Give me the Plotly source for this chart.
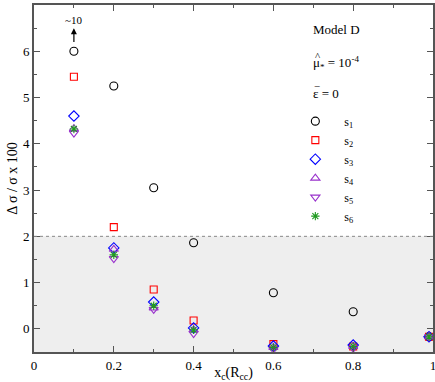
import plotly.graph_objects as go

# data
x_vals = [0.1, 0.2, 0.3, 0.4, 0.6, 0.8, 0.99]
s1 = [6.0, 5.25, 3.05, 1.86, 0.78, 0.37, -0.17]
s2 = [5.45, 2.2, 0.85, 0.18, -0.33, -0.38, -0.17]
s3 = [4.6, 1.75, 0.58, 0.02, -0.37, -0.35, -0.17]
s4 = [4.33, 1.72, 0.45, -0.02, -0.40, -0.38, -0.17]
s5 = [4.23, 1.52, 0.42, -0.10, -0.44, -0.42, -0.17]
s6 = [4.32, 1.60, 0.50, -0.02, -0.40, -0.38, -0.17]
names = ["s<sub>1</sub>", "s<sub>2</sub>", "s<sub>3</sub>",
         "s<sub>4</sub>", "s<sub>5</sub>", "s<sub>6</sub>"]

styles = [
    ("circle-open", "black", 8),
    ("square-open", "red", 7),
    ("diamond-open", "blue", 8),
    ("triangle-up-open", "#9932cc", 8),
    ("triangle-down-open", "#9932cc", 8),
    ("asterisk-open", "#1f9a1f", 7),
]

FONT = "Liberation Serif"
AXC = "#555555"

fig = go.Figure()

# shaded band below 2
fig.add_shape(type="rect", xref="x", yref="y", x0=0, x1=1, y0=-0.5, y1=2,
              fillcolor="#eeeeee", line=dict(width=0), layer="below")
fig.add_shape(type="line", xref="x", yref="y", x0=0, x1=1, y0=2, y1=2,
              line=dict(color="#888888", width=1, dash="dot"))

for name, ys, (sym, col, sz) in zip(names, [s1, s2, s3, s4, s5, s6], styles):
    fig.add_trace(go.Scatter(
        x=x_vals, y=ys, mode="markers", name="\u00a0\u00a0\u00a0" + name,
        marker=dict(symbol=sym, size=sz, color=col,
                    line=dict(color=col, width=1.1)),
    ))

# arrow "~10"
fig.add_annotation(x=0.1, y=6.5, ax=0.1, ay=6.17, xref="x", yref="y",
                   axref="x", ayref="y", text="", showarrow=True,
                   arrowhead=2, arrowsize=1, arrowwidth=1.2, arrowcolor="black")
fig.add_annotation(x=0.1, y=6.5, xref="x", yref="y", text="~10",
                   showarrow=False, yanchor="bottom",
                   font=dict(family=FONT, size=11, color="black"))

# text block in the upper right
fig.add_annotation(x=0.695, y=0.93, xref="paper", yref="paper", text="Model D",
                   showarrow=False, xanchor="left", yanchor="middle",
                   font=dict(family=FONT, size=13, color="black"))
fig.add_annotation(x=0.695, y=0.833, xref="paper", yref="paper",
                   text="μ<sub>*</sub> = 10<sup>-4</sup>",
                   showarrow=False, xanchor="left", yanchor="middle",
                   font=dict(family=FONT, size=13, color="black"))
fig.add_annotation(x=0.699, y=0.852, xref="paper", yref="paper", text="^",
                   showarrow=False, xanchor="left", yanchor="middle",
                   font=dict(family=FONT, size=11, color="black"))
fig.add_annotation(x=0.695, y=0.745, xref="paper", yref="paper", text="ε = 0",
                   showarrow=False, xanchor="left", yanchor="middle",
                   font=dict(family=FONT, size=13, color="black"))
fig.add_annotation(x=0.697, y=0.752, xref="paper", yref="paper", text="\u203e",
                   showarrow=False, xanchor="left", yanchor="middle",
                   font=dict(family=FONT, size=13, color="black"))

fig.update_layout(
    width=435, height=382,
    margin=dict(l=34, r=2, t=5, b=30, autoexpand=False),
    paper_bgcolor="white", plot_bgcolor="white",
    font=dict(family=FONT, size=13, color="black"),
    legend=dict(x=0.655, y=0.707, xanchor="left", yanchor="top",
                bgcolor="rgba(0,0,0,0)", font=dict(family=FONT, size=12),
                tracegroupgap=0, itemsizing="trace"),
    showlegend=True,
)

fig.update_xaxes(range=[0, 1], tickvals=[0, 0.2, 0.4, 0.6, 0.8, 1],
                 ticktext=["0", "0.2", "0.4", "0.6", "0.8", "1"],
                 tickfont=dict(family=FONT, size=13), ticklabeloverflow="allow",
                 ticks="inside", ticklen=6, tickwidth=1, tickcolor=AXC,
                 mirror="ticks", showline=True, linecolor=AXC, linewidth=2,
                 showgrid=False, zeroline=False,
                 minor=dict(dtick=0.1, ticks="inside", ticklen=3, tickcolor=AXC,
                            showgrid=False),
                 title=dict(text="x<sub>c</sub>(R<sub>cc</sub>)", standoff=0,
                            font=dict(family=FONT, size=14)))
fig.update_yaxes(range=[-0.5, 7], tickvals=[0, 1, 2, 3, 4, 5, 6, 7],
                 tickfont=dict(family=FONT, size=13),
                 ticks="inside", ticklen=6, tickwidth=1, tickcolor=AXC,
                 mirror="ticks", showline=True, linecolor=AXC, linewidth=2,
                 showgrid=False, zeroline=False,
                 minor=dict(dtick=0.5, tick0=0, ticks="inside", ticklen=3,
                            tickcolor=AXC, showgrid=False),
                 title=dict(text="Δ σ / σ x 100", standoff=2,
                            font=dict(family=FONT, size=14)))

fig.write_html("out.html", config={"displayModeBar": False},
               post_script="document.body.style.margin='0';")
